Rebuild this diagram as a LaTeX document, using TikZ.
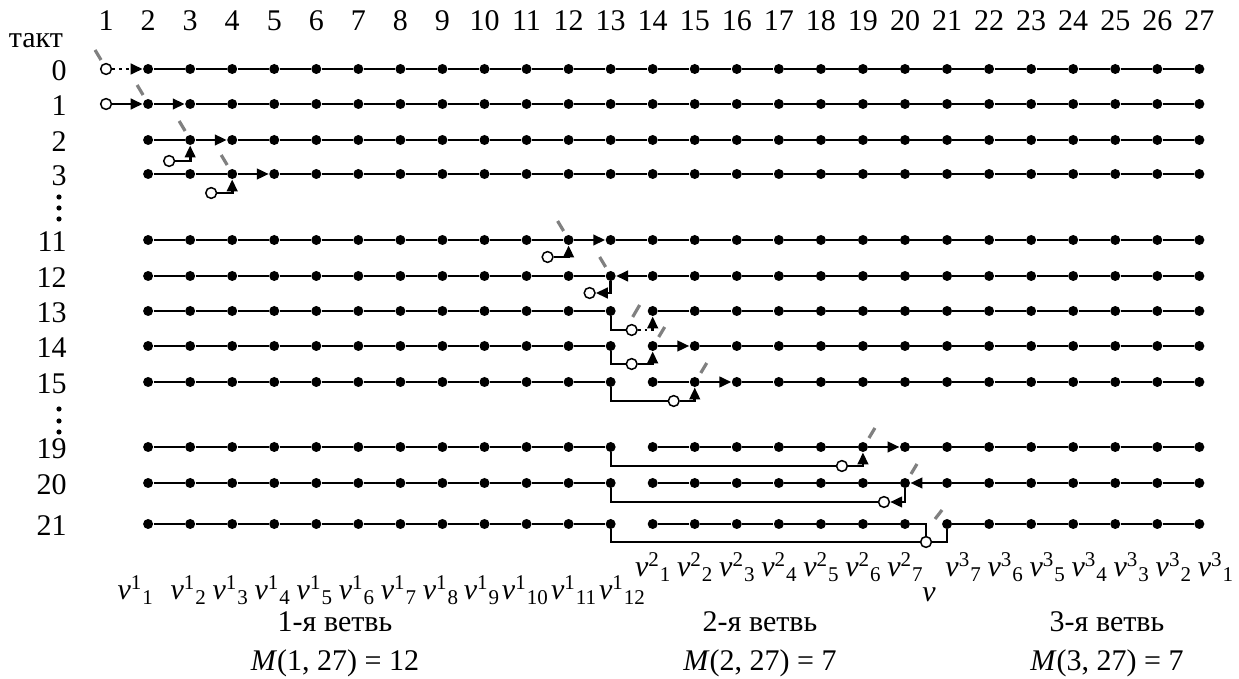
\documentclass[tikz,border=0pt]{standalone}
\usepackage{fontspec}
\setmainfont{Liberation Serif}
\usetikzlibrary{arrows.meta,positioning,calc}
\tikzset{
  tk_dot/.style={circle, fill=black, inner sep=0pt, minimum size=5pt},
  tk_open/.style={circle, draw=black, fill=white, line width=0.75pt,
    inner sep=0pt, minimum size=5.4pt},
  tk_line/.style={line width=0.95pt},
  tk_arr/.style={line width=1.4pt, -{Triangle[length=6pt,width=5.2pt]}},
  tk_dotarr/.style={line width=1.4pt, dotted, -{Triangle[length=6pt,width=5.2pt]}},
  tk_mark/.style={line width=1.6pt, gray},
  tk_vlab/.style={anchor=base west, inner sep=0pt},
}
\newcommand{\tkrun}[3]{%
  \pgfmathtruncatemacro{\tklast}{#3-1}%
  \foreach \c [evaluate=\c as \n using int(\c+1)] in {#2,...,\tklast}
    {\draw[tk_line] (d#1-\c) -- (d#1-\n);}}
\newcommand{\tkmarkl}[1]{\draw[tk_mark] ($(#1)+(-11,-19)$) -- ++(6,10);}
\newcommand{\tkmarkr}[1]{\draw[tk_mark] ($(#1)+(12,-19)$) -- ++(-6,10);}
\newcommand{\vl}[2]{\textit{v}\textsuperscript{#1}\textsubscript{#2}}

\begin{document}
\begin{tikzpicture}[x=0.5pt, y=-0.5pt, font=\fontsize{15}{18}\selectfont]
\useasboundingbox (0,0) rectangle (1239,679);

% column numbers and rows
\node[anchor=base] (takt) at (36,48) {такт};
\foreach \c in {1,...,27}
  \node[anchor=base] (n\c) at ({64+42.05*\c},31) {\c};
\foreach \r/\y in {0/69,1/104,2/140,3/174,11/240,12/276,13/311,14/346,15/382,19/447,20/483,21/524}{
  \node[anchor=east, inner sep=0pt] (t\r) at (67,\y+2) {\r};
  \foreach \c in {2,...,27}
    \node[tk_dot] (d\r-\c) at ({64+42.05*\c},\y) {};
}
\foreach \y in {197,208,219,409,421,432}
  \fill (59,\y) circle (1.3pt);

% plain segments
\tkrun{0}{2}{27}
\tkrun{1}{3}{27}
\tkrun{2}{2}{3}   \tkrun{2}{4}{27}
\tkrun{3}{2}{4}   \tkrun{3}{5}{27}
\tkrun{11}{2}{12} \tkrun{11}{13}{27}
\tkrun{12}{2}{13} \tkrun{12}{14}{27}
\tkrun{13}{2}{13} \tkrun{13}{14}{27}
\tkrun{14}{2}{13} \tkrun{14}{15}{27}
\tkrun{15}{2}{13} \tkrun{15}{14}{15} \tkrun{15}{16}{27}
\tkrun{19}{2}{13} \tkrun{19}{14}{19} \tkrun{19}{20}{27}
\tkrun{20}{2}{13} \tkrun{20}{14}{20} \tkrun{20}{21}{27}
\tkrun{21}{2}{13} \tkrun{21}{14}{20} \tkrun{21}{21}{27}

% moving segments
\draw[tk_arr] (d1-2)   -- (d1-3);
\draw[tk_arr] (d2-3)   -- (d2-4);
\draw[tk_arr] (d3-4)   -- (d3-5);
\draw[tk_arr] (d11-12) -- (d11-13);
\draw[tk_arr] (d12-14) -- (d12-13);
\draw[tk_arr] (d14-14) -- (d14-15);
\draw[tk_arr] (d15-15) -- (d15-16);
\draw[tk_arr] (d19-19) -- (d19-20);
\draw[tk_arr] (d20-21) -- (d20-20);

% open points
\node[tk_open] (o0)  at ({64+42.05},69) {};
\node[tk_open] (o1)  at ({64+42.05},104) {};
\node[tk_open] (o2)  at ($(d2-2)!.5!(d2-3)+(0,21)$) {};
\node[tk_open] (o3)  at ($(d3-3)!.5!(d3-4)+(0,19)$) {};
\node[tk_open] (o11) at ($(d11-11)!.5!(d11-12)+(0,17)$) {};
\node[tk_open] (o12) at ($(d12-12)!.5!(d12-13)+(0,17)$) {};
\node[tk_open] (o13) at ($(d13-13)!.5!(d13-14)+(0,19)$) {};
\node[tk_open] (o14) at ($(d14-13)!.5!(d14-14)+(0,18)$) {};
\node[tk_open] (o15) at ($(d15-14)!.5!(d15-15)+(0,19)$) {};
\node[tk_open] (o19) at ($(d19-18)!.5!(d19-19)+(0,19)$) {};
\node[tk_open] (o20) at ($(d20-19)!.5!(d20-20)+(0,19)$) {};
\node[tk_open] (o21) at ($(d21-20)!.5!(d21-21)+(0,18)$) {};

% links to open points
\draw[tk_dotarr] (o0) -- (d0-2);
\draw[tk_arr] (o1)  -- (d1-2);
\draw[tk_arr] (o2)  -| (d2-3);
\draw[tk_arr] (o3)  -| (d3-4);
\draw[tk_arr] (o11) -| (d11-12);
\draw[tk_arr] (d12-13) |- (o12);
\draw[tk_line] (d13-13) |- (o13);
\draw[tk_dotarr] (o13) -| (d13-14);
\draw[tk_line] (d14-13) |- (o14);
\draw[tk_arr] (o14) -| (d14-14);
\draw[tk_line] (d15-13) |- (o15);
\draw[tk_arr] (o15) -| (d15-15);
\draw[tk_line] (d19-13) |- (o19);
\draw[tk_arr] (o19) -| (d19-19);
\draw[tk_line] (d20-13) |- (o20);
\draw[tk_arr] (d20-20) |- (o20);
\draw[tk_line] (d21-13) |- (o21);
\draw[tk_line] (d21-20) -| (o21);
\draw[tk_line] (o21) -| (d21-21);

% gray marks
\tkmarkl{o0} \tkmarkl{d1-2} \tkmarkl{d2-3} \tkmarkl{d3-4}
\tkmarkl{d11-12} \tkmarkl{d12-13}
\draw[tk_mark] ($(o13)+(8,-25)$) -- ++(-7,12);
\tkmarkr{d14-14} \tkmarkr{d15-15} \tkmarkr{d19-19} \tkmarkr{d20-20}
\draw[tk_mark] ($(d21-21)+(-5,-14)$) -- ++(-7,9);

% branch labels
\node[tk_vlab] (v1-1) at ({64+42.05*2-31},600) {\vl{1}{1}};
\foreach \k/\dx in {2/-20,3/-20,4/-20,5/-20,6/-20,7/-20,8/-20,9/-21,10/-25,11/-18,12/-12}
  \node[tk_vlab] (v1-\k) at ({64+42.05*(\k+1)+\dx},600) {\vl{1}{\k}};
\foreach \k in {1,...,7}
  \node[tk_vlab] (v2-\k) at ({64+42.05*(\k+13)-18},577) {\vl{2}{\k}};
\foreach \k in {1,...,7}
  \node[tk_vlab] (v3-\k) at ({64+42.05*(28-\k)-2},577) {\vl{3}{\k}};
\node[anchor=base, inner sep=0pt] (vx) at (929,602) {\textit{v}};

\node[anchor=base] (b1) at (335,632) {1-я ветвь};
\node[anchor=base] (m1) at (335,670) {\textit{M}(1, 27) = 12};
\node[anchor=base] (b2) at (760,632) {2-я ветвь};
\node[anchor=base] (m2) at (760,670) {\textit{M}(2, 27) = 7};
\node[anchor=base] (b3) at (1107,632) {3-я ветвь};
\node[anchor=base] (m3) at (1107,670) {\textit{M}(3, 27) = 7};

\end{tikzpicture}
\end{document}
